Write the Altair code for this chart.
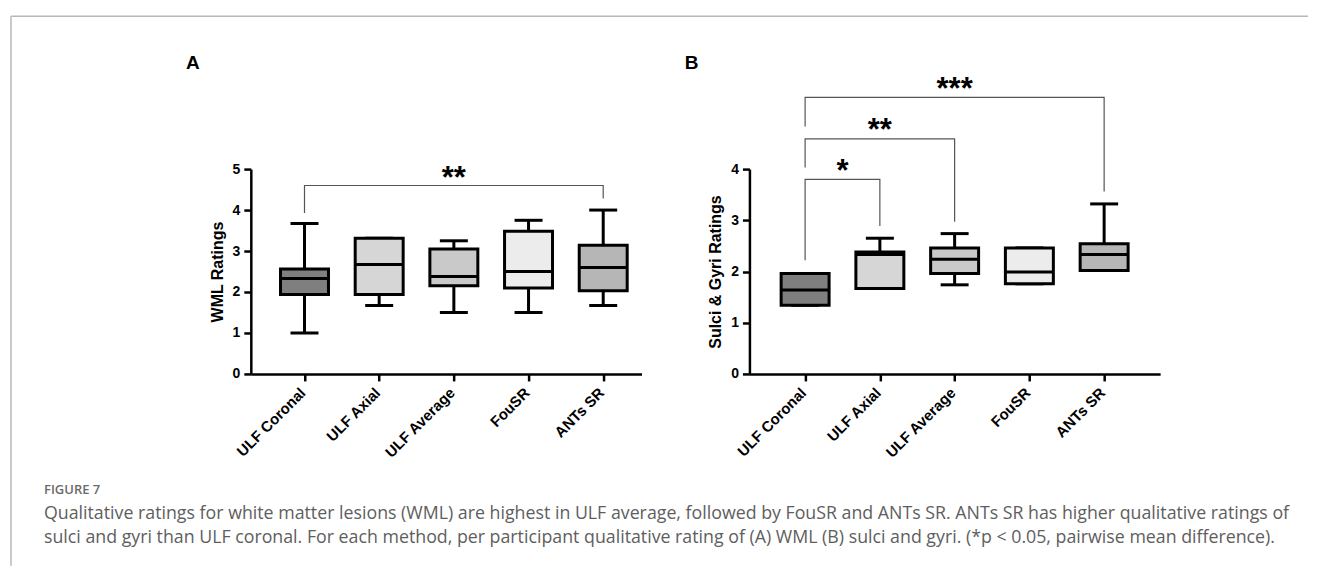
import json
import altair as alt
import pandas as pd

# ---------------- data ----------------
categories = ["ULF Coronal", "ULF Axial", "ULF Average", "FouSR", "ANTs SR"]
box_fills = ["#7f7f7f", "#d6d6d6", "#c9c9c9", "#ececec", "#b6b6b6"]

# Panel A: WML ratings (min, Q1, median, Q3, max)
wml_min = [1.00, 1.67, 1.50, 1.50, 1.67]
wml_q1 = [1.94, 1.94, 2.15, 2.10, 2.03]
wml_median = [2.33, 2.67, 2.38, 2.50, 2.60]
wml_q3 = [2.56, 3.31, 3.05, 3.48, 3.14]
wml_max = [3.67, 3.31, 3.25, 3.75, 4.00]

# Panel B: Sulci & Gyri ratings
sg_min = [1.34, 1.67, 1.74, 1.76, 2.02]
sg_q1 = [1.34, 1.67, 1.96, 1.76, 2.02]
sg_median = [1.64, 2.33, 2.24, 1.99, 2.33]
sg_q3 = [1.96, 2.38, 2.46, 2.46, 2.54]
sg_max = [1.96, 2.65, 2.74, 2.46, 3.32]

# significance brackets
wml_sig_from = ["ULF Coronal"]
wml_sig_to = ["ANTs SR"]
wml_sig_level = [4.60]
wml_sig_left_end = [3.93]
wml_sig_right_end = [4.28]
wml_sig_label = ["**"]
wml_sig_label_y = [4.91]

sg_sig_from = ["ULF Coronal", "ULF Coronal", "ULF Coronal"]
sg_sig_to = ["ULF Axial", "ULF Average", "ANTs SR"]
sg_sig_level = [3.80, 4.59, 5.40]
sg_sig_left_end = [2.22, 4.03, 4.83]
sg_sig_right_end = [2.89, 2.97, 3.56]
sg_sig_label = ["*", "**", "***"]
sg_sig_label_y = [4.06, 4.86, 5.67]

caption_head = "FIGURE 7"
caption_lines = [
    "Qualitative ratings for white matter lesions (WML) are highest in ULF average, followed by FouSR and ANTs SR. ANTs SR has higher qualitative ratings of",
    "sulci and gyri than ULF coronal. For each method, per participant qualitative rating of (A) WML (B) sulci and gyri. (*p < 0.05, pairwise mean difference).",
]

FONT = "Liberation Sans"
CAP_FONT = "Open Sans"
label_expr = json.dumps(categories) + "[datum.value]"


def panel(mins, q1s, meds, q3s, maxs, s_from, s_to, s_level, s_le, s_re, s_lab, s_laby,
          y_max, y_title, x_domain, width, height, letter):
    df = pd.DataFrame({"method": categories, "idx": list(range(len(categories))),
                       "lo": mins, "q1": q1s, "med": meds, "q3": q3s, "hi": maxs})
    xs = alt.Scale(domain=x_domain, nice=False, zero=False)
    ys = alt.Scale(domain=[0, y_max], nice=False, zero=True)
    x_axis = alt.Axis(values=list(range(len(categories))), labelExpr=label_expr,
                      labelAngle=-45, labelAlign="right", labelBaseline="middle",
                      labelPadding=9, labelOffset=-2, labelFontSize=15,
                      labelOverlap=False, labelBound=False, title=None)
    y_axis = alt.Axis(values=list(range(y_max + 1)), title=y_title,
                      titlePadding=7, labelPadding=4)

    def X():
        return alt.X("idx:Q", scale=xs, axis=x_axis)

    def Y(f):
        return alt.Y(f, scale=ys, axis=y_axis)

    base = alt.Chart(df)
    whisk = base.mark_rule(color="black", strokeWidth=3, opacity=1).encode(x=X(), y=Y("lo:Q"), y2="hi:Q")
    cap_lo = base.mark_tick(orient="horizontal", size=28, thickness=3, color="black", opacity=1).encode(x=X(), y=Y("lo:Q"))
    cap_hi = base.mark_tick(orient="horizontal", size=28, thickness=3, color="black", opacity=1).encode(x=X(), y=Y("hi:Q"))
    box = base.mark_bar(width=48, stroke="black", strokeWidth=3, opacity=1).encode(
        x=X(), y=Y("q1:Q"), y2="q3:Q",
        fill=alt.Fill("method:N", scale=alt.Scale(domain=categories, range=box_fills), legend=None))
    med = base.mark_tick(orient="horizontal", size=48, thickness=3, color="black", opacity=1).encode(x=X(), y=Y("med:Q"))

    rows, srows = [], []
    for j, (f, t, lv, le, re, lab, ly) in enumerate(zip(s_from, s_to, s_level, s_le, s_re, s_lab, s_laby)):
        fi, ti = categories.index(f), categories.index(t)
        rows += [dict(b=j, s=0, idx=fi, v=le), dict(b=j, s=1, idx=fi, v=lv),
                 dict(b=j, s=2, idx=ti, v=lv), dict(b=j, s=3, idx=ti, v=re)]
        srows.append(dict(idx=(fi + ti) / 2, v=ly, lab=lab))
    br = alt.Chart(pd.DataFrame(rows)).mark_line(color="#555555", strokeWidth=1.2).encode(
        x=X(), y=Y("v:Q"), detail="b:N", order="s:O")
    stars = alt.Chart(pd.DataFrame(srows)).mark_text(
        font=FONT, fontSize=31, fontWeight="bold", color="black", baseline="alphabetic", dy=15
    ).encode(x=X(), y=Y("v:Q"), text="lab:N")

    let = alt.Chart(pd.DataFrame({"t": [letter]})).mark_text(
        font=FONT, fontSize=19, fontWeight="bold", color="black", align="center", baseline="middle"
    ).encode(x=alt.value(-58), y=alt.value(-106), text="t:N")

    layers = [whisk, cap_lo, cap_hi, box, med, br, stars, let]
    return layers, width, height


A_layers, wa, ha = panel(wml_min, wml_q1, wml_median, wml_q3, wml_max,
                         wml_sig_from, wml_sig_to, wml_sig_level, wml_sig_left_end,
                         wml_sig_right_end, wml_sig_label, wml_sig_label_y,
                         5, "WML Ratings", [-0.652, 4.446], 391, 205, "A")
B_layers, wb, hb = panel(sg_min, sg_q1, sg_median, sg_q3, sg_max,
                         sg_sig_from, sg_sig_to, sg_sig_level, sg_sig_left_end,
                         sg_sig_right_end, sg_sig_label, sg_sig_label_y,
                         4, "Sulci & Gyri Ratings", [-0.678, 4.682], 411, 205, "B")

# figure frame and caption (decoration, placed relative to panel A)
deco = pd.DataFrame({"t": [""]})
frame_top = alt.Chart(deco).mark_rule(color="#b8b8b8", strokeWidth=1.5).encode(
    x=alt.value(-240), x2=alt.value(1058), y=alt.value(-153))
frame_left = alt.Chart(deco).mark_rule(color="#b8b8b8", strokeWidth=1.5).encode(
    x=alt.value(-240), y=alt.value(-153), y2=alt.value(397))
cap_head = alt.Chart(pd.DataFrame({"t": [caption_head]})).mark_text(
    font=CAP_FONT, fontSize=13, fontWeight=600, color="#6a6a6a", align="left", baseline="middle"
).encode(x=alt.value(-207), y=alt.value(321), text="t:N")
cap1 = alt.Chart(pd.DataFrame({"t": [caption_lines[0]]})).mark_text(
    font=CAP_FONT, fontSize=17.8, color="#5e5e5e", align="left", baseline="middle"
).encode(x=alt.value(-207), y=alt.value(345), text="t:N")
cap2 = alt.Chart(pd.DataFrame({"t": [caption_lines[1]]})).mark_text(
    font=CAP_FONT, fontSize=17.8, color="#5e5e5e", align="left", baseline="middle"
).encode(x=alt.value(-207), y=alt.value(369), text="t:N")

panel_a = alt.layer(*A_layers, frame_top, frame_left, cap_head, cap1, cap2).properties(width=wa, height=ha)
panel_b = alt.layer(*B_layers).properties(width=wb, height=hb)

chart = alt.hconcat(panel_a, panel_b, spacing=108, bounds="flush").properties(
    padding={"left": 2, "top": 7, "right": 0, "bottom": 0}
).configure_view(stroke=None).configure_axis(
    grid=False,
    domainColor="black", domainWidth=2.5,
    tickColor="black", tickWidth=2.5, tickSize=7,
    labelFont=FONT, labelFontSize=14, labelFontWeight="bold", labelColor="black",
    titleFont=FONT, titleFontSize=16, titleFontWeight="bold", titleColor="black",
)

chart.save("out.html", embed_options={"renderer": "svg", "actions": False})
